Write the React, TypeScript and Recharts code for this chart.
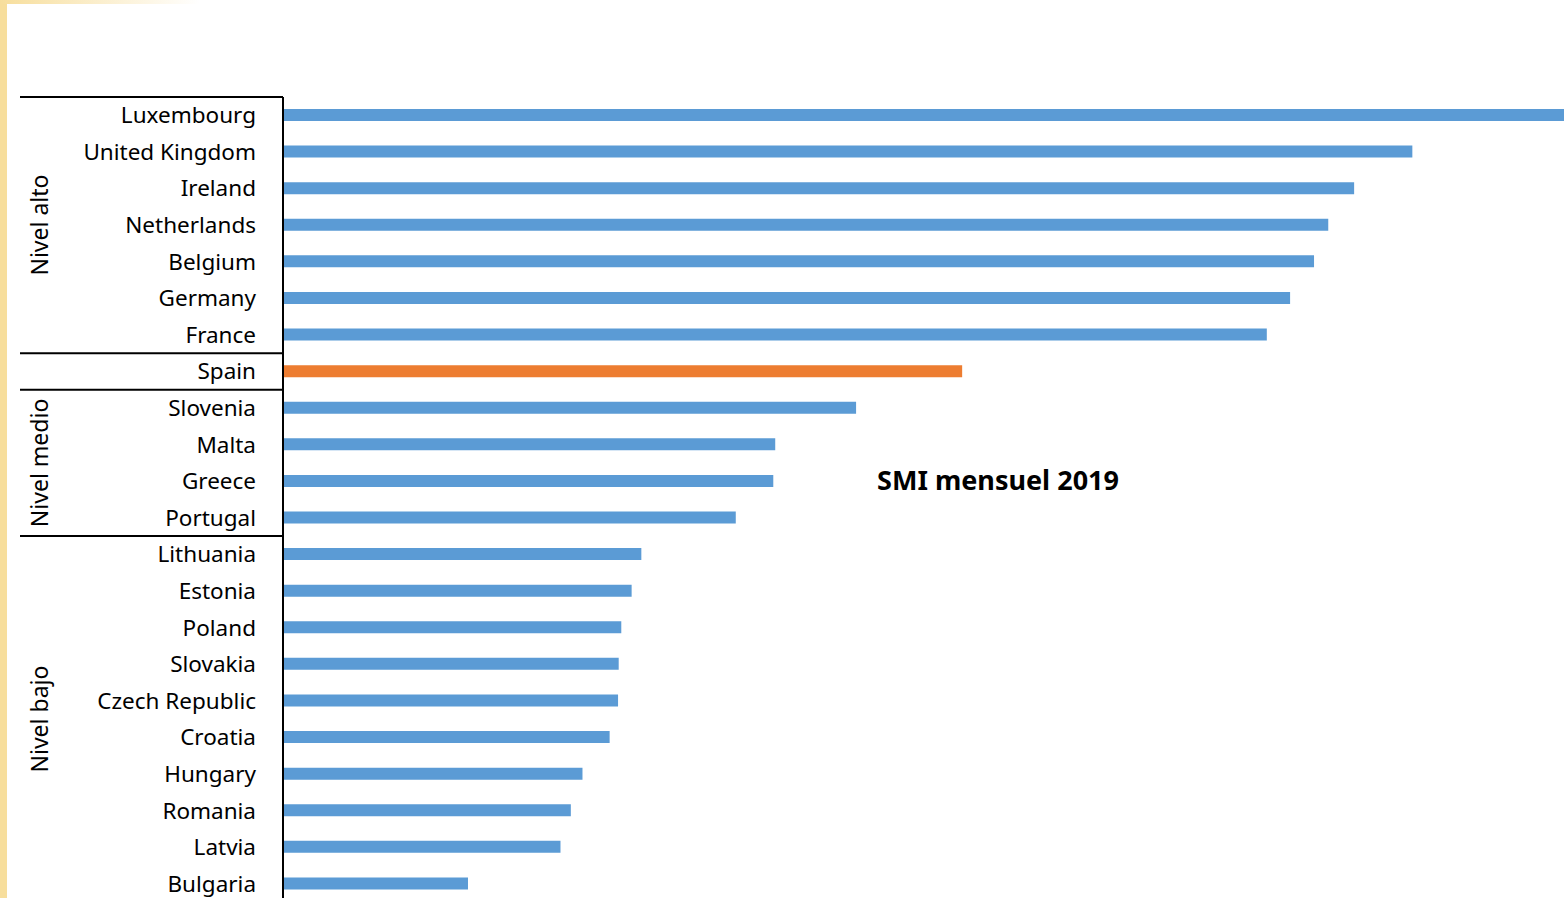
import React from 'react';
import { BarChart, Bar, XAxis, YAxis, Cell } from 'recharts';

// SMI mensuel 2019 (EUR)
const countries = [
  'Luxembourg', 'United Kingdom', 'Ireland', 'Netherlands', 'Belgium', 'Germany', 'France',
  'Spain',
  'Slovenia', 'Malta', 'Greece', 'Portugal',
  'Lithuania', 'Estonia', 'Poland', 'Slovakia', 'Czech Republic', 'Croatia', 'Hungary',
  'Romania', 'Latvia', 'Bulgaria',
];
const wages = [
  2071, 1746, 1656, 1616, 1594, 1557, 1521,
  1050,
  886, 761, 758, 700,
  554, 539, 523, 519, 518, 505, 463, 445, 429, 286,
];
const groupNames = ['Nivel alto', '', 'Nivel medio', 'Nivel bajo'];
const groupSizes = [7, 1, 4, 10];
const highlight = 'Spain';

const BLUE = '#5B9BD5';
const ORANGE = '#ED7D31';
const FONT = '"Noto Sans", "Open Sans", sans-serif';

const CHART_W = 1706;
const CHART_H = 902;
const MARGIN = { top: 97, right: 0, bottom: 0, left: 0 };
const YAXIS_W = 283;
const BAND = (CHART_H - MARGIN.top - MARGIN.bottom) / countries.length;

// index of first row of each group
const groupStarts: number[] = [];
groupSizes.reduce((acc, n) => {
  groupStarts.push(acc);
  return acc + n;
}, 0);

const data = countries.map((c, i) => ({ country: c, value: wages[i] }));

const CountryTick = (props: any) => {
  const { y, payload } = props;
  const idx = countries.indexOf(payload.value);
  const g = groupStarts.indexOf(idx);
  const top = y - BAND / 2;
  const mid = top + (g >= 0 ? groupSizes[g] * BAND : 0) / 2;
  return (
    <g>
      <text
        x={YAXIS_W - 27}
        y={y}
        dy={8}
        textAnchor="end"
        fill="#000"
        fontSize={22.5}
        fontFamily={FONT}
      >
        {payload.value}
      </text>
      {g >= 0 && (
        <line x1={20} x2={YAXIS_W} y1={top} y2={top} stroke="#000" strokeWidth={2} />
      )}
      {g >= 0 && groupNames[g] && (
        <text
          x={48}
          y={mid}
          transform={`rotate(-90 48 ${mid})`}
          textAnchor="middle"
          fill="#000"
          fontSize={23}
          fontFamily={FONT}
        >
          {groupNames[g]}
        </text>
      )}
    </g>
  );
};

export default function App() {
  return (
    <div
      style={{
        position: 'absolute',
        left: 0,
        top: 0,
        width: 1564,
        height: 898,
        overflow: 'hidden',
        background: '#fff',
      }}
    >
      <div
        style={{
          position: 'absolute',
          left: 0,
          top: 0,
          width: 7,
          height: 898,
          background: '#F7DE9C',
        }}
      />
      <div
        style={{
          position: 'absolute',
          left: 0,
          top: 0,
          width: 200,
          height: 4,
          background: 'linear-gradient(to right, #F7DE9C, #ffffff)',
        }}
      />
      <div style={{ position: 'absolute', left: 0, top: 0 }}>
        <BarChart
          width={CHART_W}
          height={CHART_H}
          data={data}
          layout="vertical"
          margin={MARGIN}
          barCategoryGap={0}
        >
          <XAxis type="number" domain={[0, 2200]} hide />
          <YAxis
            type="category"
            dataKey="country"
            width={YAXIS_W}
            tickLine={false}
            axisLine={{ stroke: '#000', strokeWidth: 2 }}
            tick={<CountryTick />}
            interval={0}
          />
          <Bar dataKey="value" barSize={12} isAnimationActive={false}>
            {data.map((d) => (
              <Cell key={d.country} fill={d.country === highlight ? ORANGE : BLUE} />
            ))}
          </Bar>
        </BarChart>
      </div>
      <div
        style={{
          position: 'absolute',
          left: 998,
          top: 461,
          transform: 'translateX(-50%)',
          whiteSpace: 'nowrap',
          fontFamily: FONT,
          fontWeight: 700,
          fontSize: 27,
          color: '#000',
        }}
      >
        SMI mensuel 2019
      </div>
    </div>
  );
}
